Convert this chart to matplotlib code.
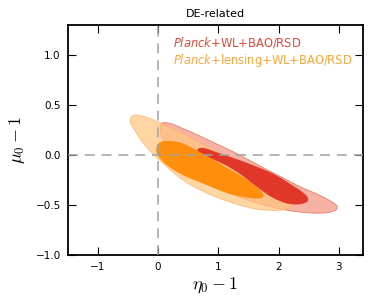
import numpy as np
import matplotlib
matplotlib.use("Agg")
import matplotlib.pyplot as plt
from matplotlib.patches import PathPatch
from matplotlib.path import Path

plt.rcParams['mathtext.fontset'] = 'dejavusans'
plt.rcParams['font.family'] = ['DejaVu Sans']

# Contour outlines (eta0-1, mu0-1)
r95_x = [0.040, 0.199, 0.365, 0.564, 0.779, 1.028, 1.277, 1.526, 1.808, 2.106, 2.355, 2.604, 2.803, 2.950, 2.985,
         2.910, 2.687, 2.355, 2.023, 1.692, 1.244, 0.862, 0.564, 0.332, 0.166, 0.066, 0.030]
r95_y = [0.330, 0.322, 0.278, 0.228, 0.167, 0.097, 0.026, -0.054, -0.145, -0.236, -0.317, -0.377, -0.437, -0.488, -0.525,
         -0.565, -0.582, -0.569, -0.538, -0.488, -0.397, -0.296, -0.196, -0.085, 0.036, 0.157, 0.258]

r68_x = [0.630, 0.730, 0.945, 1.194, 1.443, 1.692, 1.940, 2.189, 2.405, 2.505, 2.440, 2.222, 2.023, 1.774, 1.443,
         1.194, 0.945, 0.746]
r68_y = [0.050, 0.080, 0.030, -0.020, -0.072, -0.132, -0.194, -0.290, -0.372, -0.440, -0.480, -0.492, -0.458, -0.377, -0.216,
         -0.115, -0.044, 0.010]

l95_x = [-0.460, -0.400, -0.299, -0.133, 0.000, 0.199, 0.448, 0.697, 0.945, 1.194, 1.443, 1.692, 1.940, 2.106, 2.225,
         2.180, 2.023, 1.774, 1.526, 1.244, 0.945, 0.697, 0.448, 0.232, 0.033, -0.133, -0.282, -0.398, -0.475]
l95_y = [0.375, 0.405, 0.399, 0.369, 0.329, 0.278, 0.208, 0.127, 0.046, -0.044, -0.125, -0.216, -0.317, -0.407, -0.490,
         -0.535, -0.552, -0.550, -0.528, -0.478, -0.417, -0.347, -0.266, -0.165, -0.054, 0.036, 0.147, 0.258, 0.335]

l68_x = [-0.025, 0.033, 0.199, 0.398, 0.614, 0.862, 1.111, 1.360, 1.575, 1.708, 1.760, 1.665, 1.443, 1.194, 0.945,
         0.697, 0.448, 0.232, 0.066, -0.025]
l68_y = [0.085, 0.135, 0.140, 0.122, 0.055, -0.030, -0.120, -0.205, -0.290, -0.365, -0.412, -0.432, -0.417, -0.387, -0.327,
         -0.266, -0.206, -0.135, -0.054, 0.016]

labels = [r'$\mathit{Planck}$+WL+BAO/RSD', r'$\mathit{Planck}$+lensing+WL+BAO/RSD']
label_colors = ['#e2483a', '#ffa436']
x_ticks = [-1, 0, 1, 2, 3]
y_ticks = [-1.0, -0.5, 0.0, 0.5, 1.0]

fig = plt.figure(figsize=(3.74, 3.08), dpi=100)
ax = fig.add_axes([0.181, 0.1705, 0.7896, 0.7485])

def smooth_path(xs, ys):
    v = np.column_stack([xs, ys])
    n = len(v)
    mids = (v + np.roll(v, -1, axis=0)) / 2.0
    verts = [mids[-1]]
    codes = [Path.MOVETO]
    for i in range(n):
        verts += [v[i], mids[i]]
        codes += [Path.CURVE3, Path.CURVE3]
    verts.append(mids[-1])
    codes.append(Path.CLOSEPOLY)
    return Path(verts, codes)

def poly(xs, ys, fc, ec, alpha, z):
    p = PathPatch(smooth_path(xs, ys), facecolor=fc, edgecolor=ec,
                  lw=0.6, alpha=alpha, zorder=z)
    ax.add_patch(p)

poly(r95_x, r95_y, '#f6b2a4', '#ee7a66', 1.0, 2)
poly(l95_x, l95_y, '#ffc680', '#ffb060', 0.72, 3)
poly(r68_x, r68_y, '#e1372a', '#e1372a', 1.0, 4)
poly(l68_x, l68_y, '#ff8a00', '#ff8a00', 0.92, 5)

ax.axvline(0, color='#a0a0a0', lw=1.1, ls=(0, (6.5, 4.5)), zorder=6)
ax.axhline(0, color='#a0a0a0', lw=1.1, ls=(0, (6.5, 4.5)), zorder=6)

ax.set_xlim(-1.5, 3.4)
ax.set_ylim(-1.0, 1.3)
ax.set_xticks(x_ticks)
ax.set_yticks(y_ticks)
ax.set_yticklabels([f'{v:.1f}'.replace('-', '\u2212') for v in y_ticks])
ax.set_xticklabels([str(v).replace('-', '\u2212') for v in x_ticks])
ax.tick_params(direction='in', top=True, right=True, length=6, width=0.8, labelsize=7.5, pad=5)
for s in ax.spines.values():
    s.set_linewidth(1.3)

ax.set_xlabel(r'$\eta_0-1$', fontsize=13, math_fontfamily='cm', labelpad=2)
ax.set_ylabel(r'$\mu_0-1$', fontsize=13, math_fontfamily='cm', labelpad=6)
ax.set_title('DE-related', fontsize=8, pad=6)

ax.text(0.357, 0.922, labels[0], transform=ax.transAxes, color=label_colors[0], fontsize=8.3, va='center', ha='left', zorder=7)
ax.text(0.357, 0.844, labels[1], transform=ax.transAxes, color=label_colors[1], fontsize=8.3, va='center', ha='left', zorder=7)

fig.savefig('out.png', dpi=100)
